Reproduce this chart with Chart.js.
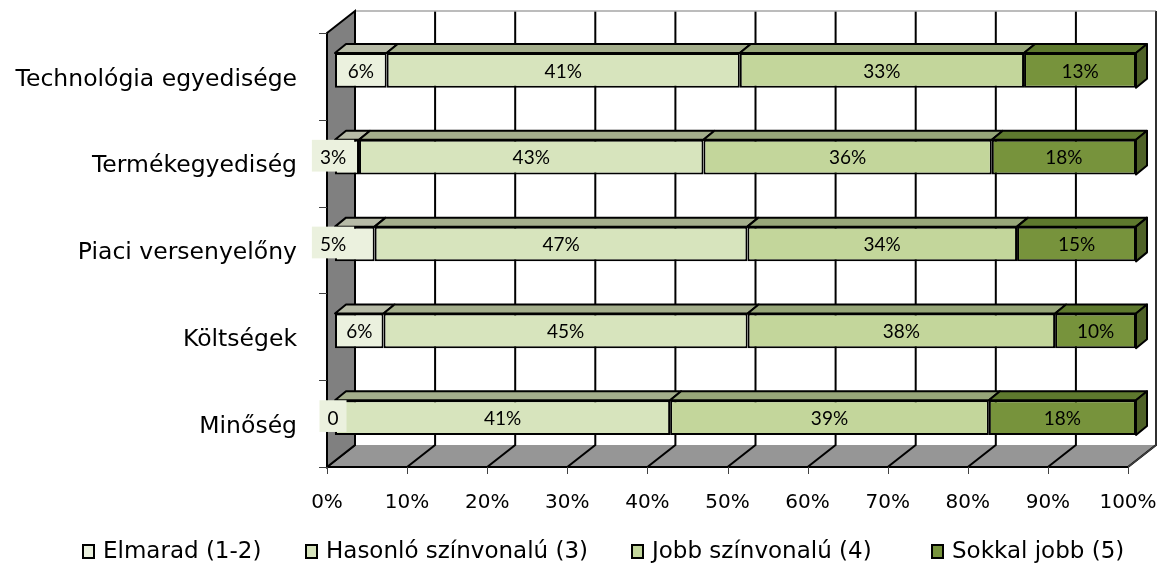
<!DOCTYPE html>
<html>
<head>
<meta charset="utf-8">
<script src="https://cdn.jsdelivr.net/npm/chart.js@4"></script>
<style>
  html, body { margin: 0; padding: 0; background: #fff; }
  #wrap { width: 1162px; height: 568px; }
</style>
</head>
<body>
<div id="wrap"><canvas id="chart" width="1162" height="568"></canvas></div>
<script>
const categories = ['Technológia egyedisége', 'Termékegyediség', 'Piaci versenyelőny', 'Költségek', 'Minőség'];
const seriesNames = ['Elmarad (1-2)', 'Hasonló színvonalú (3)', 'Jobb színvonalú (4)', 'Sokkal jobb (5)'];
const elmarad = [6, 3, 5, 6, 0];
const hasonlo = [41, 43, 47, 45, 41];
const jobb = [33, 36, 34, 38, 39];
const sokkal = [13, 18, 15, 10, 18];
const xTicks = [0, 10, 20, 30, 40, 50, 60, 70, 80, 90, 100];

const frontColors = ['#EBF1DE', '#D7E4BD', '#C3D69B', '#77933C'];
const topColors = ['#B7BBA7', '#A4AE8C', '#97A679', '#5E792E'];
const endColor = '#4F6228';

const raw = [elmarad, hasonlo, jobb, sokkal];
// 100% stacked: each row is scaled by its own total
const rowTotals = categories.map((_, i) => raw.reduce((s, arr) => s + arr[i], 0));

const LABEL_FONT = '"DejaVu Sans", sans-serif';
const VALUE_FONT = 'Lato, sans-serif';

// 3D offsets relative to the bar front plane
const BAR_DX = 11, BAR_DY = -9;
const FRONT_DX = -8, FRONT_DY = 6;
const BACK_DX = 20, BACK_DY = -16;

const box3d = {
    id: 'box3d',
    beforeDatasetsDraw(chart) {
        const ctx = chart.ctx;
        const area = chart.chartArea;
        const xs = chart.scales.x;
        const fl = area.left + FRONT_DX, fr = area.right + FRONT_DX;
        const ft = area.top + FRONT_DY, fb = area.bottom + FRONT_DY;
        const bl = area.left + BACK_DX, br = area.right + BACK_DX;
        const bt = area.top + BACK_DY, bb = area.bottom + BACK_DY;
        ctx.save();

        // floor
        ctx.fillStyle = '#969696';
        ctx.beginPath();
        ctx.moveTo(fl, fb); ctx.lineTo(fr, fb); ctx.lineTo(br, bb); ctx.lineTo(bl, bb);
        ctx.closePath();
        ctx.fill();

        // back wall grid lines and floor diagonals
        ctx.strokeStyle = '#000';
        ctx.lineWidth = 2;
        xTicks.forEach(v => {
            const px = xs.getPixelForValue(v);
            ctx.beginPath();
            ctx.moveTo(px + BACK_DX, bt);
            ctx.lineTo(px + BACK_DX, bb);
            ctx.lineTo(px + FRONT_DX, fb);
            ctx.stroke();
        });

        // back wall border
        ctx.lineWidth = 1.5;
        ctx.strokeStyle = '#A6A6A6';
        ctx.beginPath();
        ctx.moveTo(bl, bt); ctx.lineTo(br, bt);
        ctx.stroke();
        ctx.strokeStyle = '#404040';
        ctx.beginPath();
        ctx.moveTo(br, bt); ctx.lineTo(br, bb); ctx.lineTo(fr, fb);
        ctx.stroke();

        // left wall
        ctx.fillStyle = '#808080';
        ctx.strokeStyle = '#000';
        ctx.lineWidth = 2;
        ctx.beginPath();
        ctx.moveTo(fl, ft); ctx.lineTo(bl, bt); ctx.lineTo(bl, bb); ctx.lineTo(fl, fb);
        ctx.closePath();
        ctx.fill();
        ctx.stroke();

        // floor front edge
        ctx.beginPath();
        ctx.moveTo(fl, fb); ctx.lineTo(fr, fb);
        ctx.stroke();

        // tick marks
        ctx.strokeStyle = '#404040';
        ctx.lineWidth = 1;
        xTicks.forEach(v => {
            const px = Math.round(xs.getPixelForValue(v) + FRONT_DX) + 0.5;
            ctx.beginPath();
            ctx.moveTo(px, fb); ctx.lineTo(px, fb + 7);
            ctx.stroke();
        });
        const step = (fb - ft) / categories.length;
        for (let k = 0; k <= categories.length; k++) {
            const py = Math.round(ft + k * step) + 0.5;
            ctx.beginPath();
            ctx.moveTo(fl - 8, py); ctx.lineTo(fl, py);
            ctx.stroke();
        }
        ctx.restore();
    },
    afterDatasetsDraw(chart) {
        const ctx = chart.ctx;
        const last = chart.data.datasets.length - 1;
        ctx.save();
        ctx.lineWidth = 2;
        ctx.strokeStyle = '#000';
        ctx.lineJoin = 'round';

        // top and end faces
        chart.data.datasets.forEach((ds, di) => {
            chart.getDatasetMeta(di).data.forEach(el => {
                const { x, y, base, height } = el.getProps(['x', 'y', 'base', 'height'], true);
                const l = Math.min(x, base), r = Math.max(x, base);
                const t = y - height / 2, b = y + height / 2;
                if (r - l < 0.5) return;
                ctx.fillStyle = topColors[di];
                ctx.beginPath();
                ctx.moveTo(l, t); ctx.lineTo(r, t); ctx.lineTo(r + BAR_DX, t + BAR_DY); ctx.lineTo(l + BAR_DX, t + BAR_DY);
                ctx.closePath();
                ctx.fill();
                ctx.stroke();
                if (di === last) {
                    ctx.fillStyle = endColor;
                    ctx.beginPath();
                    ctx.moveTo(r, t); ctx.lineTo(r + BAR_DX, t + BAR_DY); ctx.lineTo(r + BAR_DX, b + BAR_DY); ctx.lineTo(r, b);
                    ctx.closePath();
                    ctx.fill();
                    ctx.stroke();
                }
            });
        });

        // value labels
        ctx.font = '19px ' + VALUE_FONT;
        ctx.textAlign = 'center';
        ctx.textBaseline = 'middle';
        chart.data.datasets.forEach((ds, di) => {
            chart.getDatasetMeta(di).data.forEach((el, i) => {
                const { x, y, base, height } = el.getProps(['x', 'y', 'base', 'height'], true);
                const v = raw[di][i];
                const text = v === 0 ? '0' : v + '%';
                const w = Math.abs(x - base);
                let cx = (x + base) / 2;
                if (w < 45) {
                    // narrow segment: label sits on its own box at the bar start
                    cx = Math.min(x, base) - 2;
                    const tw = ctx.measureText(text).width + 16;
                    ctx.fillStyle = frontColors[di];
                    ctx.fillRect(cx - tw / 2, y - height / 2, tw, height - 3);
                }
                ctx.fillStyle = '#000';
                ctx.fillText(text, cx, y + 1);
            });
        });
        ctx.restore();
    },
    afterDraw(chart) {
        const ctx = chart.ctx;
        const legendX = [83, 306, 632, 932];
        ctx.save();
        ctx.font = '23px ' + LABEL_FONT;
        ctx.textAlign = 'left';
        ctx.textBaseline = 'middle';
        seriesNames.forEach((name, i) => {
            const x = legendX[i];
            ctx.fillStyle = frontColors[i];
            ctx.fillRect(x, 545, 11, 13);
            ctx.strokeStyle = '#000';
            ctx.lineWidth = 2;
            ctx.strokeRect(x, 545, 11, 13);
            ctx.fillStyle = '#000';
            ctx.fillText(name, x + 20, 552);
        });
        ctx.restore();
    }
};

const ctx = document.getElementById('chart').getContext('2d');
new Chart(ctx, {
    type: 'bar',
    data: {
        labels: categories,
        datasets: raw.map((arr, di) => ({
            label: seriesNames[di],
            data: arr.map((v, i) => v / rowTotals[i] * 100),
            backgroundColor: frontColors[di],
            borderColor: '#000',
            borderWidth: 2,
            borderSkipped: false,
            barPercentage: 0.4,
            categoryPercentage: 1
        }))
    },
    options: {
        indexAxis: 'y',
        responsive: false,
        animation: false,
        layout: { padding: { top: 27, right: 26, left: 0, bottom: 0 } },
        plugins: {
            legend: { display: false },
            tooltip: { enabled: false }
        },
        scales: {
            x: {
                stacked: true,
                min: 0,
                max: 100,
                grid: { display: false, drawTicks: false },
                border: { display: false },
                afterFit: s => {
                    s.height = 107;
                    s.paddingLeft = 0;
                    s.paddingRight = 0;
                },
                afterBuildTicks: s => { s.ticks = xTicks.map(v => ({ value: v })); },
                ticks: {
                    callback: v => v + '%',
                    labelOffset: -8,
                    padding: 30,
                    maxRotation: 0,
                    autoSkip: false,
                    color: '#000',
                    font: { family: LABEL_FONT, size: 20 }
                }
            },
            y: {
                stacked: true,
                grid: { display: false, drawTicks: false },
                border: { display: false },
                afterFit: s => {
                    s.width = 335;
                    s.paddingTop = 0;
                    s.paddingBottom = 0;
                },
                ticks: {
                    padding: 38,
                    labelOffset: 9,
                    color: '#000',
                    font: { family: LABEL_FONT, size: 23.5 }
                }
            }
        }
    },
    plugins: [box3d]
});
</script>
</body>
</html>
